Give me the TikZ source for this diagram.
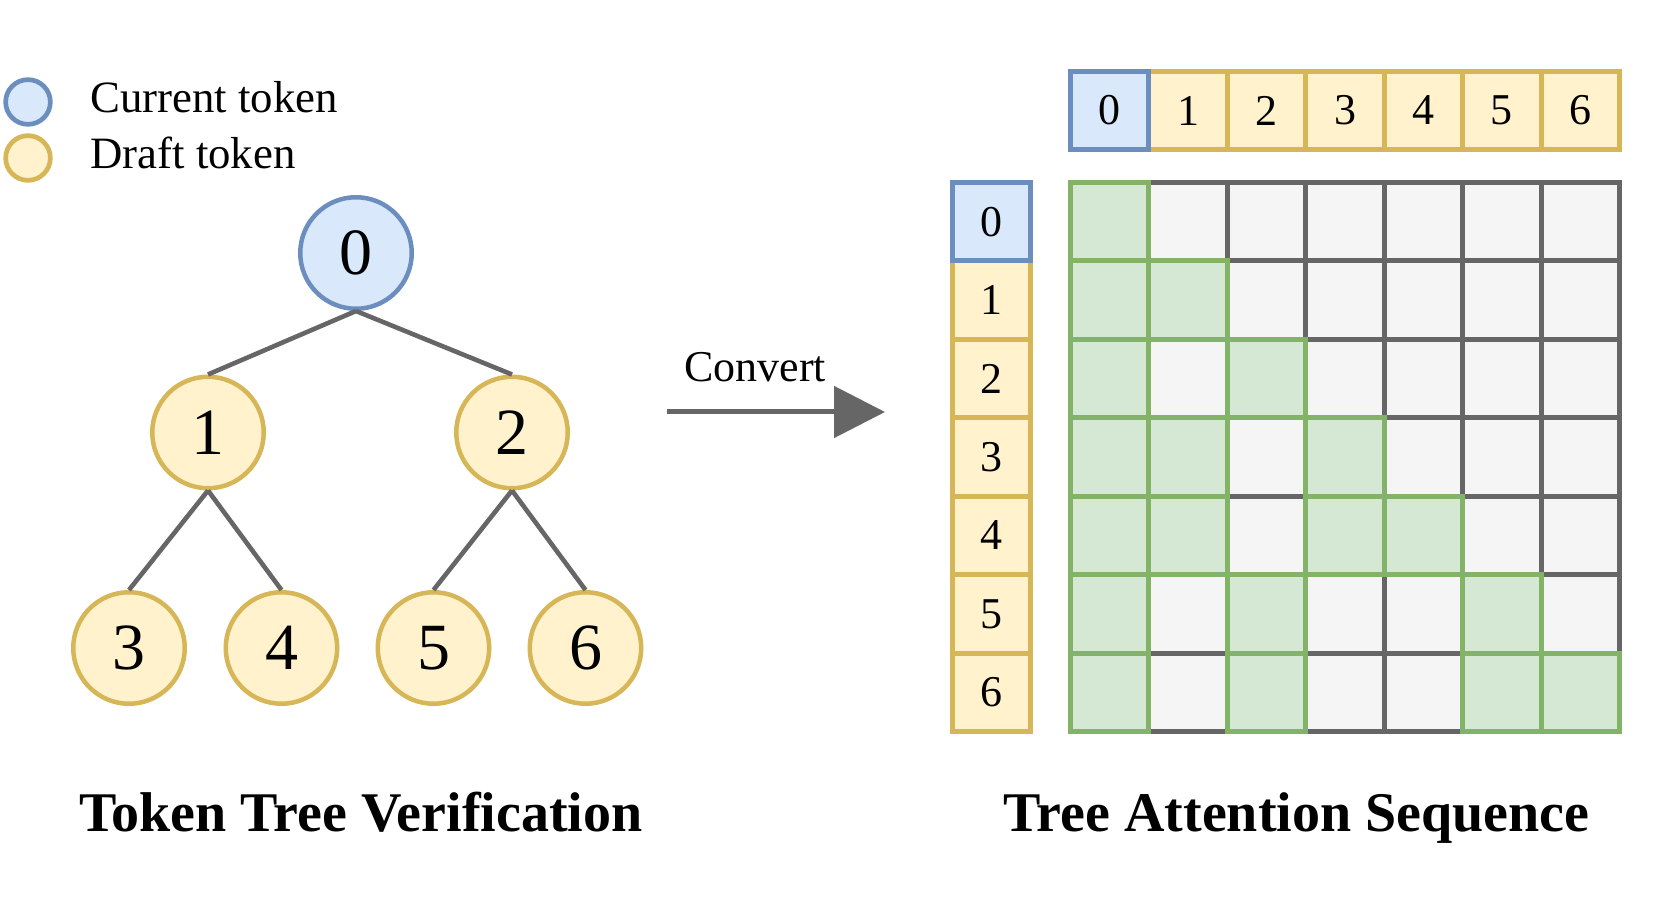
\documentclass[tikz,border=0pt]{standalone}
\usepackage{fontspec}
\setmainfont{Liberation Serif}
\usepackage{xcolor}
\usepackage{tikz}
\usetikzlibrary{arrows.meta,positioning}
\definecolor{curfill}{HTML}{DAE8FC}
\definecolor{curline}{HTML}{6C8EBF}
\definecolor{draftfill}{HTML}{FFF2CC}
\definecolor{draftline}{HTML}{D6B656}
\definecolor{maskfill}{HTML}{D5E8D4}
\definecolor{maskline}{HTML}{82B366}
\definecolor{offfill}{HTML}{F5F5F5}
\definecolor{edgegray}{HTML}{666666}
\newcommand{\cellsz}{78.43}

\begin{document}
\begin{tikzpicture}[x=0.5pt,y=-0.5pt,
  tok/.style={circle,line width=2.25pt,minimum size=55.75pt,inner sep=0pt,font=\fontsize{33}{36}\selectfont},
  cur/.style={tok,draw=curline,fill=curfill},
  draft/.style={tok,draw=draftline,fill=draftfill},
  legdot/.style={circle,line width=2.35pt,minimum size=22.35pt,inner sep=0pt},
  legtxt/.style={anchor=base west,inner sep=0pt,font=\fontsize{22.4}{25}\selectfont},
  cellbox/.style={rectangle,line width=2.5pt,minimum width=39.2pt,minimum height=39.2pt,inner sep=0pt,font=\fontsize{22}{24}\selectfont},
  edge/.style={draw=edgegray,line width=2.3pt}]
\useasboundingbox (0,0) rectangle (1661,898);

% legend
\node[legdot,draw=curline,fill=curfill] (legcur) at (28,102) {};
\node[legdot,draw=draftline,fill=draftfill] (legdraft) at (28,158) {};
\node[legtxt] (legcurtxt) at (90,113) {Current token};
\node[legtxt] (legdrafttxt) at (90,169) {Draft token};

% token tree
\node[cur] (t0) at (356,253) {0};
\node[draft] (t1) at (208,432.5) {1};
\node[draft] (t2) at (512,432.5) {2};
\node[draft] (t3) at (129,648) {3};
\node[draft] (t4) at (281.5,648) {4};
\node[draft] (t5) at (433.5,648) {5};
\node[draft] (t6) at (585.5,648) {6};
\foreach \p/\c in {t0/t1,t0/t2,t1/t3,t1/t4,t2/t5,t2/t6}
  \draw[edge] (\p.south) -- (\c.north);

% convert arrow
\coordinate (convstart) at (667,412);
\coordinate (convend) at (885,412);
\draw[draw=edgegray,line width=2.5pt,-{Triangle[length=25.5pt,width=25.5pt]}] (convstart) -- (convend);
\node[anchor=base,font=\fontsize{22}{24}\selectfont] (convtxt) at (755,382) {Convert};

% attention mask
\foreach \r in {0,...,6}
  \foreach \c in {0,...,6}
    \node[cellbox,draw=edgegray,fill=offfill] (m-\r-\c) at ({1109.7+\cellsz*\c},{221.7+\cellsz*\r}) {};
\foreach \r/\c in {0/0,1/0,1/1,2/0,2/2,3/0,3/1,3/3,4/0,4/1,4/3,4/4,5/0,5/2,5/5,6/0,6/2,6/5,6/6}
  \node[cellbox,draw=maskline,fill=maskfill] at (m-\r-\c) {};
\foreach \i in {1,...,6}{
  \node[cellbox,draw=draftline,fill=draftfill] (col-\i) at ({1109.7+\cellsz*\i},110.5) {\i};
  \node[cellbox,draw=draftline,fill=draftfill] (row-\i) at (991.5,{221.7+\cellsz*\i}) {\i};
}
\node[cellbox,draw=curline,fill=curfill] (col-0) at (1109.7,110.5) {0};
\node[cellbox,draw=curline,fill=curfill] (row-0) at (991.5,221.7) {0};

% titles
\node[anchor=base,font=\fontsize{28}{32}\selectfont\bfseries] (lefttitle) at (361,831) {Token Tree Verification};
\node[anchor=base,font=\fontsize{28}{32}\selectfont\bfseries] (righttitle) at (1296.5,831) {Tree Attention Sequence};
\end{tikzpicture}
\end{document}
